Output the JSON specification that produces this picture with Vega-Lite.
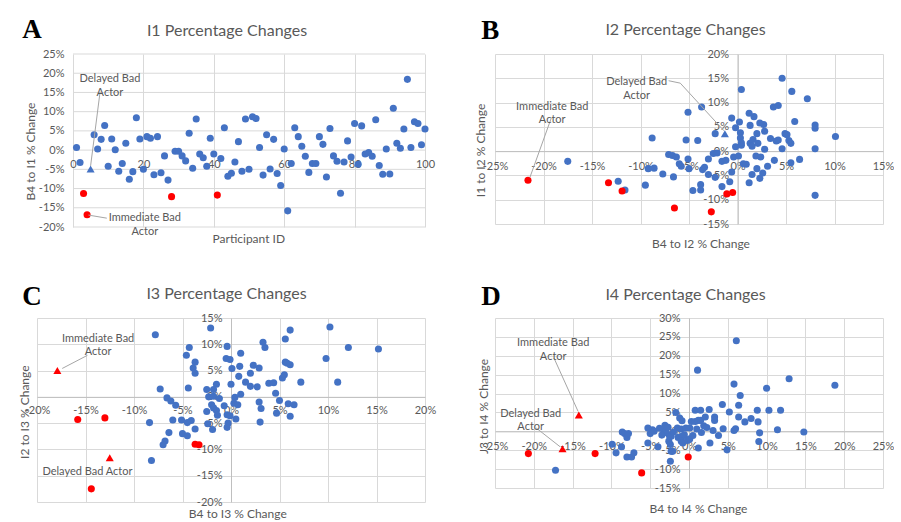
{
"$schema":"https://vega.github.io/schema/vega-lite/v6.json",
"autosize":{"type":"pad"},
"padding":{"left":18,"top":15,"right":0,"bottom":0},
"background":"white",
"config":{"view":{"stroke":null},
"axis":{"labelFont":"Lato","titleFont":"Lato","labelColor":"#595959","titleColor":"#595959","labelFontSize":11,"titleFontSize":12,"titleFontWeight":"normal","gridColor":"#d9d9d9","domainColor":"#bfbfbf","ticks":false,"labelFlush":false,"labelOverlap":false},
"text":{"font":"Lato"}},
"datasets":{
"Agrid":[{"y":-20},{"y":-15},{"y":-10},{"y":-5},{"y":0},{"y":5},{"y":10},{"y":15},{"y":20},{"y":25}],
"Ab":[{"x":1,"y":0.7},{"x":2,"y":-3.2},{"x":6,"y":4.0},{"x":7,"y":0.3},{"x":8,"y":2.8},{"x":9,"y":6.4},{"x":10,"y":-4.2},{"x":11,"y":2.9},{"x":12,"y":0.1},{"x":13,"y":-5.5},{"x":14,"y":-3.5},{"x":15,"y":1.8},{"x":16,"y":-7.6},{"x":17,"y":-5.6},{"x":18,"y":8.4},{"x":19,"y":2.9},{"x":20,"y":-5.0},{"x":21,"y":3.5},{"x":22,"y":3.1},{"x":23,"y":-6.4},{"x":24,"y":3.5},{"x":25,"y":-5.9},{"x":26,"y":-1.5},{"x":27,"y":-7.8},{"x":29,"y":-0.3},{"x":30,"y":-0.3},{"x":31,"y":-1.5},{"x":32,"y":-2.8},{"x":33,"y":4.4},{"x":34,"y":-4.7},{"x":35,"y":8.1},{"x":36,"y":-1.0},{"x":37,"y":-2.0},{"x":38,"y":-4.2},{"x":39,"y":3.1},{"x":40,"y":-1.0},{"x":42,"y":-2.2},{"x":43,"y":5.8},{"x":44,"y":-6.8},{"x":45,"y":-6.0},{"x":46,"y":-3.1},{"x":47,"y":2.2},{"x":48,"y":-5.5},{"x":49,"y":8.1},{"x":50,"y":-5.0},{"x":51,"y":8.7},{"x":52,"y":8.2},{"x":53,"y":0.7},{"x":54,"y":-6.5},{"x":55,"y":4.0},{"x":56,"y":-4.9},{"x":57,"y":2.8},{"x":58,"y":-6.1},{"x":59,"y":-9.2},{"x":60,"y":0.3},{"x":61,"y":-15.8},{"x":62,"y":-3.5},{"x":63,"y":5.8},{"x":64,"y":3.5},{"x":65,"y":1.0},{"x":66,"y":-1.6},{"x":67,"y":-5.8},{"x":68,"y":-3.5},{"x":69,"y":-3.5},{"x":70,"y":3.5},{"x":71,"y":1.5},{"x":72,"y":-7.0},{"x":73,"y":5.6},{"x":74,"y":-1.5},{"x":75,"y":-2.9},{"x":76,"y":-11.2},{"x":77,"y":-3.1},{"x":78,"y":2.4},{"x":79,"y":-1.8},{"x":80,"y":6.9},{"x":81,"y":-3.7},{"x":82,"y":6.3},{"x":83,"y":-1.0},{"x":84,"y":-0.6},{"x":85,"y":-1.6},{"x":86,"y":7.9},{"x":87,"y":-4.0},{"x":88,"y":-6.3},{"x":89,"y":0.3},{"x":90,"y":-6.2},{"x":91,"y":10.9},{"x":92,"y":1.8},{"x":93,"y":0.5},{"x":94,"y":5.5},{"x":95,"y":18.4},{"x":96,"y":0.7},{"x":97,"y":7.4},{"x":98,"y":6.9},{"x":99,"y":1.4},{"x":100,"y":5.5}],
"Ar":[{"x":3,"y":-11.3},{"x":4,"y":-16.8},{"x":28,"y":-12.1},{"x":41,"y":-11.7}],
"At":[{"x":5,"y":-4.9}],
"Atext":[{"x":10.5,"y":18.4,"t":"Delayed Bad\nActor"},{"x":20.4,"y":-17.7,"t":"Immediate Bad\nActor"}],
"Alead":[{"x":7.7,"y":15.2,"x2":5.0,"y2":-4.1},{"x":4.4,"y":-16.9,"x2":9.6,"y2":-17.7}],
"Bb":[{"x":-17.5,"y":-2.1},{"x":-12.3,"y":-6.2},{"x":-11.6,"y":-8.0},{"x":-9.5,"y":-7.0},{"x":-9.2,"y":-3.6},{"x":-8.6,"y":-3.5},{"x":-8.8,"y":2.7},{"x":-7.7,"y":-4.7},{"x":-7.1,"y":-0.7},{"x":-6.7,"y":-0.9},{"x":-6.3,"y":-1.2},{"x":-6.6,"y":-5.3},{"x":-6.0,"y":-2.6},{"x":-5.8,"y":-3.1},{"x":-5.3,"y":2.3},{"x":-5.1,"y":8.0},{"x":-5.1,"y":-1.6},{"x":-5.0,"y":-3.6},{"x":-4.6,"y":-8.1},{"x":-4.1,"y":2.2},{"x":-3.8,"y":-8.0},{"x":-3.8,"y":-6.9},{"x":-3.7,"y":9.1},{"x":-3.6,"y":-3.8},{"x":-3.4,"y":-3.3},{"x":-3.0,"y":-4.8},{"x":-3.0,"y":-1.6},{"x":-2.5,"y":-0.5},{"x":-2.3,"y":3.6},{"x":-2.3,"y":-5.4},{"x":-2.1,"y":-0.4},{"x":-1.6,"y":-7.3},{"x":-1.6,"y":-2.1},{"x":-1.2,"y":-1.9},{"x":-0.8,"y":-6.3},{"x":-0.6,"y":-4.3},{"x":-0.6,"y":6.8},{"x":-0.4,"y":-1.2},{"x":-0.2,"y":0.9},{"x":-0.2,"y":4.8},{"x":0.1,"y":-1.0},{"x":0.2,"y":6.0},{"x":0.3,"y":3.8},{"x":0.3,"y":2.7},{"x":0.4,"y":1.2},{"x":0.4,"y":12.7},{"x":0.4,"y":1.7},{"x":0.6,"y":-2.6},{"x":0.9,"y":-2.7},{"x":1.2,"y":-6.5},{"x":1.2,"y":7.8},{"x":1.3,"y":5.3},{"x":1.3,"y":1.6},{"x":1.5,"y":1.0},{"x":1.5,"y":-4.8},{"x":1.6,"y":2.4},{"x":1.7,"y":7.1},{"x":1.9,"y":-1.0},{"x":2.0,"y":3.6},{"x":2.0,"y":-3.6},{"x":2.1,"y":1.6},{"x":2.3,"y":-5.6},{"x":2.3,"y":5.8},{"x":2.4,"y":-1.2},{"x":2.6,"y":-4.5},{"x":2.7,"y":5.5},{"x":2.8,"y":4.1},{"x":2.8,"y":0.4},{"x":3.1,"y":-3.1},{"x":3.4,"y":2.6},{"x":3.7,"y":9.1},{"x":3.8,"y":-1.9},{"x":4.0,"y":2.1},{"x":4.2,"y":9.4},{"x":4.2,"y":2.3},{"x":4.6,"y":15.0},{"x":4.6,"y":0.5},{"x":4.9,"y":3.6},{"x":5.1,"y":3.4},{"x":5.3,"y":2.2},{"x":5.5,"y":1.6},{"x":5.5,"y":-2.4},{"x":5.6,"y":12.3},{"x":5.9,"y":6.1},{"x":6.4,"y":-1.7},{"x":7.2,"y":10.8},{"x":8.0,"y":5.4},{"x":8.0,"y":4.7},{"x":8.0,"y":0.5},{"x":8.0,"y":-9.1},{"x":10.1,"y":3.0}],
"Br":[{"x":-21.6,"y":-6.0},{"x":-13.3,"y":-6.5},{"x":-11.9,"y":-8.2},{"x":-6.5,"y":-11.7},{"x":-2.7,"y":-12.5},{"x":-1.1,"y":-8.8},{"x":-0.5,"y":-8.5}],
"Bt":[{"x":-1.3,"y":3.6}],
"Btext":[{"x":-10.4,"y":14.15,"t":"Delayed Bad\nActor"},{"x":-19.1,"y":9.15,"t":"Immediate Bad\nActor"}],
"Blead":[{"x":-19.2,"y":6.8,"x2":-21.4,"y2":-5.4},{"x":-7.1,"y":14.5,"x2":-5.9,"y2":14.0},{"x":-5.9,"y":14.0,"x2":-1.4,"y2":4.2}],
"Cb":[{"x":-7.8,"y":11.8},{"x":-2.1,"y":13.1},{"x":10.2,"y":13.3},{"x":6.1,"y":12.7},{"x":5.6,"y":11.0},{"x":3.3,"y":10.4},{"x":3.5,"y":9.4},{"x":-0.4,"y":9.6},{"x":-4.3,"y":9.4},{"x":-4.6,"y":7.9},{"x":-3.7,"y":6.6},{"x":-3.9,"y":5.5},{"x":-3.7,"y":4.5},{"x":-0.5,"y":7.3},{"x":-0.1,"y":7.1},{"x":1.0,"y":8.3},{"x":0.1,"y":5.4},{"x":0.9,"y":5.8},{"x":2.3,"y":6.0},{"x":2.9,"y":5.5},{"x":2.0,"y":4.5},{"x":0.8,"y":3.9},{"x":1.5,"y":2.8},{"x":2.0,"y":2.0},{"x":2.7,"y":1.9},{"x":3.9,"y":2.6},{"x":4.4,"y":2.7},{"x":5.3,"y":3.6},{"x":5.5,"y":4.2},{"x":5.6,"y":6.6},{"x":5.8,"y":6.4},{"x":6.1,"y":6.1},{"x":7.2,"y":2.8},{"x":9.8,"y":7.3},{"x":12.1,"y":9.4},{"x":15.2,"y":9.1},{"x":11.0,"y":2.8},{"x":0.0,"y":2.4},{"x":1.0,"y":0.5},{"x":4.6,"y":0.7},{"x":5.0,"y":-0.7},{"x":5.9,"y":-1.3},{"x":6.5,"y":-1.5},{"x":6.1,"y":-3.7},{"x":4.7,"y":-3.1},{"x":2.9,"y":-1.0},{"x":3.1,"y":-2.2},{"x":3.0,"y":-4.8},{"x":0.4,"y":-0.1},{"x":0.3,"y":-1.2},{"x":0.7,"y":-1.5},{"x":0.5,"y":-4.2},{"x":-0.7,"y":-1.7},{"x":-0.4,"y":-3.4},{"x":-0.1,"y":-3.6},{"x":-0.3,"y":-5.0},{"x":-0.4,"y":-5.8},{"x":-1.5,"y":2.4},{"x":-1.8,"y":1.4},{"x":-2.5,"y":1.4},{"x":-2.3,"y":0.0},{"x":-1.8,"y":0.1},{"x":-1.2,"y":-0.3},{"x":-2.0,"y":-1.5},{"x":-1.8,"y":-2.1},{"x":-2.5,"y":-2.8},{"x":-1.5,"y":-2.6},{"x":-1.4,"y":-3.5},{"x":-2.4,"y":-5.1},{"x":-1.9,"y":-6.2},{"x":-7.3,"y":1.5},{"x":-4.4,"y":1.7},{"x":-6.6,"y":-0.2},{"x":-6.2,"y":-0.8},{"x":-5.7,"y":-1.6},{"x":-6.0,"y":-4.4},{"x":-8.4,"y":-4.9},{"x":-5.1,"y":-4.4},{"x":-4.5,"y":-4.9},{"x":-4.1,"y":-4.5},{"x":-5.0,"y":-7.0},{"x":-4.5,"y":-7.4},{"x":-3.7,"y":-6.1},{"x":-6.4,"y":-6.8},{"x":-6.8,"y":-8.4},{"x":-7.0,"y":-9.1},{"x":-8.2,"y":-12.1}],
"Cr":[{"x":-15.8,"y":-4.3},{"x":-13.0,"y":-4.0},{"x":-14.4,"y":-17.5},{"x":-3.7,"y":-9.0},{"x":-3.3,"y":-9.1}],
"Ct":[{"x":-17.9,"y":5.0},{"x":-12.5,"y":-11.6}],
"Ctext":[{"x":-13.7,"y":11.1,"t":"Immediate Bad\nActor"},{"x":-14.8,"y":-14.2,"t":"Delayed Bad Actor"}],
"Clead":[{"x":-14.8,"y":7.9,"x2":-17.4,"y2":5.4}],
"Db":[{"x":-17.2,"y":-10.3},{"x":-9.9,"y":-3.4},{"x":-9.4,"y":-5.7},{"x":-8.7,"y":-4.1},{"x":-8.6,"y":-0.2},{"x":-8.3,"y":-0.6},{"x":-8.0,"y":-1.6},{"x":-7.8,"y":-0.6},{"x":-8.0,"y":-6.8},{"x":-7.4,"y":-6.8},{"x":-7.1,"y":-5.7},{"x":-5.3,"y":-3.1},{"x":-5.3,"y":0.9},{"x":-5.0,"y":-0.6},{"x":-4.7,"y":0.4},{"x":-4.5,"y":0.0},{"x":-4.0,"y":-4.1},{"x":-3.3,"y":0.4},{"x":-3.1,"y":1.6},{"x":-2.9,"y":-0.4},{"x":-2.7,"y":1.1},{"x":-2.5,"y":-1.3},{"x":-2.6,"y":-2.6},{"x":-2.4,"y":-3.5},{"x":-2.3,"y":-5.3},{"x":-2.4,"y":-7.9},{"x":-1.7,"y":5.0},{"x":-1.2,"y":3.5},{"x":-0.9,"y":2.8},{"x":-1.5,"y":0.9},{"x":-1.0,"y":0.6},{"x":-1.4,"y":-1.6},{"x":-0.9,"y":-1.3},{"x":-1.0,"y":-2.6},{"x":-0.8,"y":-3.1},{"x":-0.6,"y":-0.9},{"x":-0.2,"y":-2.4},{"x":0.1,"y":-2.0},{"x":0.5,"y":-1.1},{"x":-0.4,"y":0.9},{"x":0.1,"y":0.9},{"x":0.3,"y":2.6},{"x":0.8,"y":2.6},{"x":1.0,"y":0.6},{"x":1.2,"y":2.9},{"x":1.5,"y":2.9},{"x":0.8,"y":5.6},{"x":1.5,"y":5.6},{"x":1.1,"y":16.2},{"x":1.2,"y":-4.4},{"x":1.6,"y":-0.3},{"x":1.9,"y":1.5},{"x":2.1,"y":3.8},{"x":2.3,"y":1.0},{"x":2.6,"y":5.8},{"x":2.7,"y":-3.1},{"x":3.1,"y":0.2},{"x":3.3,"y":3.8},{"x":3.3,"y":2.9},{"x":3.8,"y":-1.1},{"x":4.3,"y":7.1},{"x":4.4,"y":0.7},{"x":4.9,"y":-4.9},{"x":5.2,"y":5.1},{"x":5.8,"y":12.5},{"x":5.8,"y":0.2},{"x":6.0,"y":0.7},{"x":6.1,"y":24.0},{"x":6.4,"y":6.9},{"x":6.4,"y":3.8},{"x":6.6,"y":9.5},{"x":7.2,"y":2.5},{"x":8.0,"y":3.4},{"x":8.8,"y":5.6},{"x":8.9,"y":2.5},{"x":9.1,"y":-0.4},{"x":9.0,"y":-2.7},{"x":10.0,"y":11.4},{"x":10.3,"y":5.6},{"x":11.4,"y":0.4},{"x":11.8,"y":5.6},{"x":12.9,"y":13.9},{"x":14.8,"y":-0.2},{"x":18.8,"y":12.2},{"x":-2.3,"y":-1.3},{"x":-2.1,"y":-5.3},{"x":-3.5,"y":-1.0},{"x":-3.8,"y":0.8},{"x":-2.0,"y":-0.2}],
"Dr":[{"x":-20.7,"y":-5.9},{"x":-12.1,"y":-5.9},{"x":-6.1,"y":-11.0},{"x":-0.1,"y":-6.8}],
"Dt":[{"x":-14.2,"y":4.3},{"x":-16.3,"y":-4.6}],
"Dtext":[{"x":-17.5,"y":23.3,"t":"Immediate Bad\nActor"},{"x":-20.4,"y":4.65,"t":"Delayed Bad\nActor"}],
"Dlead":[{"x":-17.4,"y":19.4,"x2":-14.3,"y2":5.3},{"x":-19.7,"y":0.9,"x2":-16.6,"y2":-4.1}]
},
"columns":2,
"spacing":{"row":91,"column":70},
"bounds":"flush",
"align":"each",
"concat":[
{"width":388,"height":173,
"resolve":{"axis":{"x":"independent","y":"independent"}},
"layer":[
{"data":{"name":"Agrid"},"mark":{"type":"rule","color":"#d9d9d9","strokeWidth":1},
"encoding":{"x":{"datum":0,"type":"quantitative","scale":{"domain":[-10.227,100],"nice":false,"zero":false},"axis":null},"x2":{"datum":100},
"y":{"field":"y","type":"quantitative","scale":{"domain":[-20,25],"nice":false,"zero":false},"axis":null}}},
{"data":{"name":"Ab"},"mark":{"type":"point","filled":true,"shape":"circle","size":50,"color":"#4472C4","opacity":1},
"encoding":{"x":{"field":"x","type":"quantitative","scale":{"domain":[-10.227,100],"nice":false,"zero":false},
"axis":{"orient":"bottom","offset":-77,"values":[0,20,40,60,80,100],"grid":true,"domain":false,"labelPadding":8,"title":"Participant ID","titleX":211.3,"titleY":88.3,"titleBaseline":"middle"}},
"y":{"field":"y","type":"quantitative","scale":{"domain":[-20,25],"nice":false,"zero":false},
"axis":{"orient":"left","offset":-36,"values":[-20,-15,-10,-5,0,5,10,15,20,25],"grid":false,"domain":false,"labelPadding":9,"labelExpr":"datum.value + '%'","title":"B4 to I1 % Change","titleX":-42.3,"titleY":97,"titleBaseline":"middle"}}}},
{"data":{"name":"Ar"},"mark":{"type":"point","filled":true,"shape":"circle","size":50,"color":"#FF0000","opacity":1},
"encoding":{"x":{"field":"x","type":"quantitative","scale":{"domain":[-10.227,100],"nice":false,"zero":false},"axis":null},"y":{"field":"y","type":"quantitative","scale":{"domain":[-20,25],"nice":false,"zero":false},"axis":null}}},
{"data":{"name":"At"},"mark":{"type":"point","filled":true,"shape":"triangle-up","size":65,"color":"#4472C4","opacity":1},
"encoding":{"x":{"field":"x","type":"quantitative","scale":{"domain":[-10.227,100],"nice":false,"zero":false},"axis":null},"y":{"field":"y","type":"quantitative","scale":{"domain":[-20,25],"nice":false,"zero":false},"axis":null}}},
{"data":{"name":"Alead"},"mark":{"type":"rule","color":"#a6a6a6","strokeWidth":1},
"encoding":{"x":{"field":"x","type":"quantitative","scale":{"domain":[-10.227,100],"nice":false,"zero":false},"axis":null},"y":{"field":"y","type":"quantitative","scale":{"domain":[-20,25],"nice":false,"zero":false},"axis":null},"x2":{"field":"x2"},"y2":{"field":"y2"}}},
{"data":{"name":"Atext"},"mark":{"type":"text","lineBreak":"\n","lineHeight":13.5,"fontSize":11,"color":"#595959","align":"center","baseline":"middle"},
"encoding":{"x":{"field":"x","type":"quantitative","scale":{"domain":[-10.227,100],"nice":false,"zero":false},
"axis":{"orient":"top","labels":false,"domain":false,"grid":false,"title":"I1 Percentage Changes","titleX":189.5,"titleY":-24,"titleBaseline":"middle","titleFontSize":16}},
"y":{"field":"y","type":"quantitative","scale":{"domain":[-20,25],"nice":false,"zero":false},
"axis":{"orient":"right","labels":false,"domain":false,"grid":false,"title":"A","titleAngle":0,"titleX":-403.3,"titleY":-16.3,"titleAlign":"left","titleBaseline":"alphabetic","titleFont":"Liberation Serif","titleFontSize":27,"titleFontWeight":"bold","titleColor":"#000000"}},
"text":{"field":"t"}}}
]},
{"width":388,"height":170,
"resolve":{"axis":{"x":"independent","y":"independent"}},
"layer":[
{"data":{"name":"Bb"},"mark":{"type":"point","filled":true,"shape":"circle","size":50,"color":"#4472C4","opacity":1},
"encoding":{"x":{"field":"x","type":"quantitative","scale":{"domain":[-25,15],"nice":false,"zero":false},
"axis":{"orient":"bottom","offset":-72.86,"values":[-25,-20,-15,-10,-5,0,5,10,15],"grid":true,"domain":true,"labelPadding":9,"labelExpr":"datum.value + '%'","title":"B4 to I2 % Change","titleX":205.5,"titleY":92.7,"titleBaseline":"middle"}},
"y":{"field":"y","type":"quantitative","scale":{"domain":[-15,20],"nice":false,"zero":false},
"axis":{"orient":"left","offset":-242.5,"values":[-15,-10,-5,0,5,10,15,20],"grid":true,"domain":true,"labelPadding":9,"labelExpr":"datum.value + '%'","title":"I1 to I2 % Change","titleX":-256.8,"titleY":96,"titleBaseline":"middle"}}}},
{"data":{"name":"Br"},"mark":{"type":"point","filled":true,"shape":"circle","size":50,"color":"#FF0000","opacity":1},
"encoding":{"x":{"field":"x","type":"quantitative","scale":{"domain":[-25,15],"nice":false,"zero":false},"axis":null},"y":{"field":"y","type":"quantitative","scale":{"domain":[-15,20],"nice":false,"zero":false},"axis":null}}},
{"data":{"name":"Bt"},"mark":{"type":"point","filled":true,"shape":"triangle-up","size":65,"color":"#4472C4","opacity":1},
"encoding":{"x":{"field":"x","type":"quantitative","scale":{"domain":[-25,15],"nice":false,"zero":false},"axis":null},"y":{"field":"y","type":"quantitative","scale":{"domain":[-15,20],"nice":false,"zero":false},"axis":null}}},
{"data":{"name":"Blead"},"mark":{"type":"rule","color":"#a6a6a6","strokeWidth":1},
"encoding":{"x":{"field":"x","type":"quantitative","scale":{"domain":[-25,15],"nice":false,"zero":false},"axis":null},"y":{"field":"y","type":"quantitative","scale":{"domain":[-15,20],"nice":false,"zero":false},"axis":null},"x2":{"field":"x2"},"y2":{"field":"y2"}}},
{"data":{"name":"Btext"},"mark":{"type":"text","lineBreak":"\n","lineHeight":13.5,"fontSize":11,"color":"#595959","align":"center","baseline":"middle"},
"encoding":{"x":{"field":"x","type":"quantitative","scale":{"domain":[-25,15],"nice":false,"zero":false},
"axis":{"orient":"top","labels":false,"domain":false,"grid":false,"title":"I2 Percentage Changes","titleX":190,"titleY":-24.5,"titleBaseline":"middle","titleFontSize":16}},
"y":{"field":"y","type":"quantitative","scale":{"domain":[-15,20],"nice":false,"zero":false},
"axis":{"orient":"right","labels":false,"domain":false,"grid":false,"title":"B","titleAngle":0,"titleX":-402.3,"titleY":-15.7,"titleAlign":"left","titleBaseline":"alphabetic","titleFont":"Liberation Serif","titleFontSize":27,"titleFontWeight":"bold","titleColor":"#000000"}},
"text":{"field":"t"}}}
]},
{"width":388,"height":184,
"resolve":{"axis":{"x":"independent","y":"independent"}},
"layer":[
{"data":{"name":"Cb"},"mark":{"type":"point","filled":true,"shape":"circle","size":50,"color":"#4472C4","opacity":1},
"encoding":{"x":{"field":"x","type":"quantitative","scale":{"domain":[-20,20],"nice":false,"zero":false},
"axis":{"orient":"bottom","offset":-105.14,"values":[-20,-15,-10,-5,0,5,10,15,20],"grid":true,"domain":true,"labelPadding":8,"labelExpr":"datum.value + '%'","title":"B4 to I3 % Change","titleX":200.3,"titleY":116.5,"titleBaseline":"middle"}},
"y":{"field":"y","type":"quantitative","scale":{"domain":[-20,15],"nice":false,"zero":false},
"axis":{"orient":"left","offset":-194,"values":[-20,-15,-10,-5,0,5,10,15],"grid":true,"domain":true,"labelPadding":9,"labelExpr":"datum.value + '%'","title":"I2 to I3 % Change","titleX":-206.8,"titleY":93.7,"titleBaseline":"middle"}}}},
{"data":{"name":"Cr"},"mark":{"type":"point","filled":true,"shape":"circle","size":50,"color":"#FF0000","opacity":1},
"encoding":{"x":{"field":"x","type":"quantitative","scale":{"domain":[-20,20],"nice":false,"zero":false},"axis":null},"y":{"field":"y","type":"quantitative","scale":{"domain":[-20,15],"nice":false,"zero":false},"axis":null}}},
{"data":{"name":"Ct"},"mark":{"type":"point","filled":true,"shape":"triangle-up","size":65,"color":"#FF0000","opacity":1},
"encoding":{"x":{"field":"x","type":"quantitative","scale":{"domain":[-20,20],"nice":false,"zero":false},"axis":null},"y":{"field":"y","type":"quantitative","scale":{"domain":[-20,15],"nice":false,"zero":false},"axis":null}}},
{"data":{"name":"Clead"},"mark":{"type":"rule","color":"#a6a6a6","strokeWidth":1},
"encoding":{"x":{"field":"x","type":"quantitative","scale":{"domain":[-20,20],"nice":false,"zero":false},"axis":null},"y":{"field":"y","type":"quantitative","scale":{"domain":[-20,15],"nice":false,"zero":false},"axis":null},"x2":{"field":"x2"},"y2":{"field":"y2"}}},
{"data":{"name":"Ctext"},"mark":{"type":"text","lineBreak":"\n","lineHeight":13.5,"fontSize":11,"color":"#595959","align":"center","baseline":"middle"},
"encoding":{"x":{"field":"x","type":"quantitative","scale":{"domain":[-20,20],"nice":false,"zero":false},
"axis":{"orient":"top","labels":false,"domain":false,"grid":false,"title":"I3 Percentage Changes","titleX":189,"titleY":-24.5,"titleBaseline":"middle","titleFontSize":16}},
"y":{"field":"y","type":"quantitative","scale":{"domain":[-20,15],"nice":false,"zero":false},
"axis":{"orient":"right","labels":false,"domain":false,"grid":false,"title":"C","titleAngle":0,"titleX":-403.3,"titleY":-13.7,"titleAlign":"left","titleBaseline":"alphabetic","titleFont":"Liberation Serif","titleFontSize":27,"titleFontWeight":"bold","titleColor":"#000000"}},
"text":{"field":"t"}}}
]},
{"width":388,"height":170,
"resolve":{"axis":{"x":"independent","y":"independent"}},
"layer":[
{"data":{"name":"Db"},"mark":{"type":"point","filled":true,"shape":"circle","size":50,"color":"#4472C4","opacity":1},
"encoding":{"x":{"field":"x","type":"quantitative","scale":{"domain":[-25,25],"nice":false,"zero":false},
"axis":{"orient":"bottom","offset":-56.67,"values":[-25,-20,-15,-10,-5,0,5,10,15,20,25],"grid":true,"domain":true,"labelPadding":9,"labelExpr":"datum.value + '%'","title":"B4 to I4 % Change","titleX":203,"titleY":77.3,"titleBaseline":"middle"}},
"y":{"field":"y","type":"quantitative","scale":{"domain":[-15,30],"nice":false,"zero":false},
"axis":{"orient":"left","offset":-194,"values":[-15,-10,-5,0,5,10,15,20,25,30],"grid":true,"domain":true,"labelPadding":9,"labelExpr":"datum.value + '%'","title":"J3 to I4 % Change","titleX":-205.7,"titleY":88,"titleBaseline":"middle"}}}},
{"data":{"name":"Dr"},"mark":{"type":"point","filled":true,"shape":"circle","size":50,"color":"#FF0000","opacity":1},
"encoding":{"x":{"field":"x","type":"quantitative","scale":{"domain":[-25,25],"nice":false,"zero":false},"axis":null},"y":{"field":"y","type":"quantitative","scale":{"domain":[-15,30],"nice":false,"zero":false},"axis":null}}},
{"data":{"name":"Dt"},"mark":{"type":"point","filled":true,"shape":"triangle-up","size":65,"color":"#FF0000","opacity":1},
"encoding":{"x":{"field":"x","type":"quantitative","scale":{"domain":[-25,25],"nice":false,"zero":false},"axis":null},"y":{"field":"y","type":"quantitative","scale":{"domain":[-15,30],"nice":false,"zero":false},"axis":null}}},
{"data":{"name":"Dlead"},"mark":{"type":"rule","color":"#a6a6a6","strokeWidth":1},
"encoding":{"x":{"field":"x","type":"quantitative","scale":{"domain":[-25,25],"nice":false,"zero":false},"axis":null},"y":{"field":"y","type":"quantitative","scale":{"domain":[-15,30],"nice":false,"zero":false},"axis":null},"x2":{"field":"x2"},"y2":{"field":"y2"}}},
{"data":{"name":"Dtext"},"mark":{"type":"text","lineBreak":"\n","lineHeight":13.5,"fontSize":11,"color":"#595959","align":"center","baseline":"middle"},
"encoding":{"x":{"field":"x","type":"quantitative","scale":{"domain":[-25,25],"nice":false,"zero":false},
"axis":{"orient":"top","labels":false,"domain":false,"grid":false,"title":"I4 Percentage Changes","titleX":190,"titleY":-23.7,"titleBaseline":"middle","titleFontSize":16}},
"y":{"field":"y","type":"quantitative","scale":{"domain":[-15,30],"nice":false,"zero":false},
"axis":{"orient":"right","labels":false,"domain":false,"grid":false,"title":"D","titleAngle":0,"titleX":-402.3,"titleY":-13.7,"titleAlign":"left","titleBaseline":"alphabetic","titleFont":"Liberation Serif","titleFontSize":27,"titleFontWeight":"bold","titleColor":"#000000"}},
"text":{"field":"t"}}}
]}
]
}
